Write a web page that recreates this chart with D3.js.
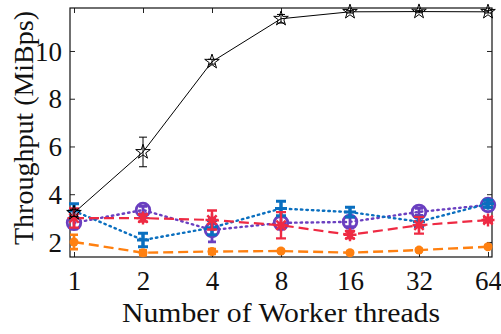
<!DOCTYPE html>
<html>
<head>
<meta charset="utf-8">
<script src="https://cdn.jsdelivr.net/npm/d3@7"></script>
</head>
<body style="margin:0">
<svg id="chart" width="501" height="334" style="font-family:'Liberation Serif'"></svg>
<script>
// Worker thread counts (log2 x axis)
const threads = [1, 2, 4, 8, 16, 32, 64];
const xTickLabels = ["1", "2", "4", "8", "16", "32", "64"];
const yTicks = [2, 4, 6, 8, 10];

// Throughput means and error half-widths (MiBps)
const starMean   = [3.22, 5.77, 9.55, 11.35, 11.64, 11.65, 11.64];
const starErr    = [0.15, 0.62, 0.10, 0.18, 0.05, 0.05, 0.05];
const plusMean   = [3.30, 2.08, 2.60, 3.40, 3.25, 2.85, 3.60];
const plusErr    = [0.30, 0.28, 0.30, 0.30, 0.20, 0.20, 0.15];
const circleMean = [2.80, 3.34, 2.50, 2.80, 2.84, 3.26, 3.55];
const circleErr  = [0.25, 0.15, 0.50, 0.25, 0.20, 0.15, 0.10];
const asterMean  = [3.00, 3.00, 2.92, 2.70, 2.30, 2.70, 2.92];
const asterErr   = [0.40, 0.15, 0.40, 0.55, 0.15, 0.35, 0.10];
const dotMean    = [2.00, 1.55, 1.60, 1.62, 1.55, 1.66, 1.80];
const dotErr     = [0.30, 0.10, 0.10, 0.05, 0.05, 0.05, 0.05];

const FONT = "Liberation Serif";

const svg = d3.select("#chart");
const L = 70, R = 492, T = 8, B = 257;

const x = d3.scaleLog().base(2)
  .domain([Math.pow(2, -0.058), Math.pow(2, 6.058)])
  .range([L, R]);
const y = d3.scaleLinear().domain([1.37, 11.8]).range([B, T]);

// Axes with inward ticks on all four sides
const tickLen = 5;
const axB = svg.append("g").attr("transform", `translate(0,${B})`)
  .call(d3.axisBottom(x).tickValues(threads).tickFormat((d, i) => xTickLabels[i])
    .tickSizeInner(-tickLen).tickSizeOuter(0).tickPadding(14));
const axT = svg.append("g").attr("transform", `translate(0,${T})`)
  .call(d3.axisTop(x).tickValues(threads).tickFormat("")
    .tickSizeInner(-tickLen).tickSizeOuter(0));
const axL = svg.append("g").attr("transform", `translate(${L},0)`)
  .call(d3.axisLeft(y).tickValues(yTicks).tickFormat(d3.format("d"))
    .tickSizeInner(-tickLen).tickSizeOuter(0).tickPadding(8));
const axR = svg.append("g").attr("transform", `translate(${R},0)`)
  .call(d3.axisRight(y).tickValues(yTicks).tickFormat("")
    .tickSizeInner(-tickLen).tickSizeOuter(0));
[axB, axT, axL, axR].forEach(g => {
  g.attr("font-family", FONT).attr("font-size", 27);
  g.select(".domain").remove();
  g.selectAll("line").attr("stroke", "#222").attr("stroke-width", 1);
  g.selectAll("text").attr("font-family", FONT).attr("font-size", 27).attr("fill", "#111");
});
axB.selectAll("text").attr("dy", "0.71em");
axL.selectAll("text").attr("dy", "0.34em");

svg.append("rect").attr("x", L).attr("y", T).attr("width", R - L).attr("height", B - T)
  .attr("fill", "none").attr("stroke", "#111").attr("stroke-width", 1.2);

// Axis titles
svg.append("text").attr("x", 281).attr("y", 322)
  .attr("text-anchor", "middle").attr("font-family", FONT).attr("font-size", 28)
  .attr("textLength", 318).attr("lengthAdjust", "spacingAndGlyphs")
  .attr("fill", "#111").text("Number of Worker threads");
svg.append("text").attr("transform", `translate(33,128) rotate(-90)`)
  .attr("text-anchor", "middle").attr("font-family", FONT).attr("font-size", 28)
  .attr("textLength", 234).attr("lengthAdjust", "spacingAndGlyphs")
  .attr("fill", "#111").text("Throughput (MiBps)");

// Marker drawers
function drawStar(g, cx, cy, color) {
  g.append("path").attr("d", d3.symbol(d3.symbolStar, 66)())
    .attr("transform", `translate(${cx},${cy})`)
    .attr("fill", "none").attr("stroke", color).attr("stroke-width", 1);
}
function drawPlus(g, cx, cy, color) {
  const s = 6;
  g.append("path").attr("d", `M${cx - s},${cy}H${cx + s}M${cx},${cy - s}V${cy + s}`)
    .attr("stroke", color).attr("stroke-width", 3).attr("fill", "none");
}
function drawCircle(g, cx, cy, color) {
  g.append("circle").attr("cx", cx).attr("cy", cy).attr("r", 6.8)
    .attr("fill", "none").attr("stroke", color).attr("stroke-width", 2.8);
}
function drawAsterisk(g, cx, cy, color) {
  const s = 6.5, d = s * 0.72;
  g.append("path")
    .attr("d", `M${cx - s},${cy}H${cx + s}M${cx},${cy - s}V${cy + s}` +
      `M${cx - d},${cy - d}L${cx + d},${cy + d}M${cx - d},${cy + d}L${cx + d},${cy - d}`)
    .attr("stroke", color).attr("stroke-width", 2.4).attr("fill", "none");
}
function drawDot(g, cx, cy, color) {
  g.append("circle").attr("cx", cx).attr("cy", cy).attr("r", 4.5).attr("fill", color);
}

const series = [
  { mean: circleMean, err: circleErr, color: "#6a3fc0", width: 2.4, dash: "1.5,4", cap: 4, ew: 2.8, marker: drawCircle },
  { mean: plusMean,   err: plusErr,   color: "#0a6fbf", width: 2.4, dash: "1.5,4", cap: 5, ew: 3.0, marker: drawPlus },
  { mean: asterMean,  err: asterErr,  color: "#ee2a43", width: 2.2, dash: "10,5",  cap: 5, ew: 2.4, marker: drawAsterisk },
  { mean: dotMean,    err: dotErr,    color: "#ff8010", width: 2.4, dash: "10,5",  cap: 4, ew: 2.6, marker: drawDot },
  { mean: starMean,   err: starErr,   color: "#000000", width: 1.0, dash: null,    cap: 4, ew: 1.0, marker: drawStar }
];

const line = d3.line().x(d => x(d.t)).y(d => y(d.v));

series.forEach(s => {
  const g = svg.append("g");
  const pts = threads.map((t, i) => ({ t, v: s.mean[i], e: s.err[i] }));
  g.append("path").datum(pts).attr("d", line)
    .attr("fill", "none").attr("stroke", s.color).attr("stroke-width", s.width)
    .attr("stroke-dasharray", s.dash).attr("stroke-linecap", s.dash && s.dash.startsWith("1.5") ? "round" : "butt");
  pts.forEach(p => {
    const cx = x(p.t), y0 = y(p.v - p.e), y1 = y(p.v + p.e);
    g.append("path")
      .attr("d", `M${cx},${y0}V${y1}M${cx - s.cap},${y0}H${cx + s.cap}M${cx - s.cap},${y1}H${cx + s.cap}`)
      .attr("stroke", s.color).attr("stroke-width", s.ew).attr("fill", "none");
    s.marker(g, cx, y(p.v), s.color);
  });
});
</script>
</body>
</html>
